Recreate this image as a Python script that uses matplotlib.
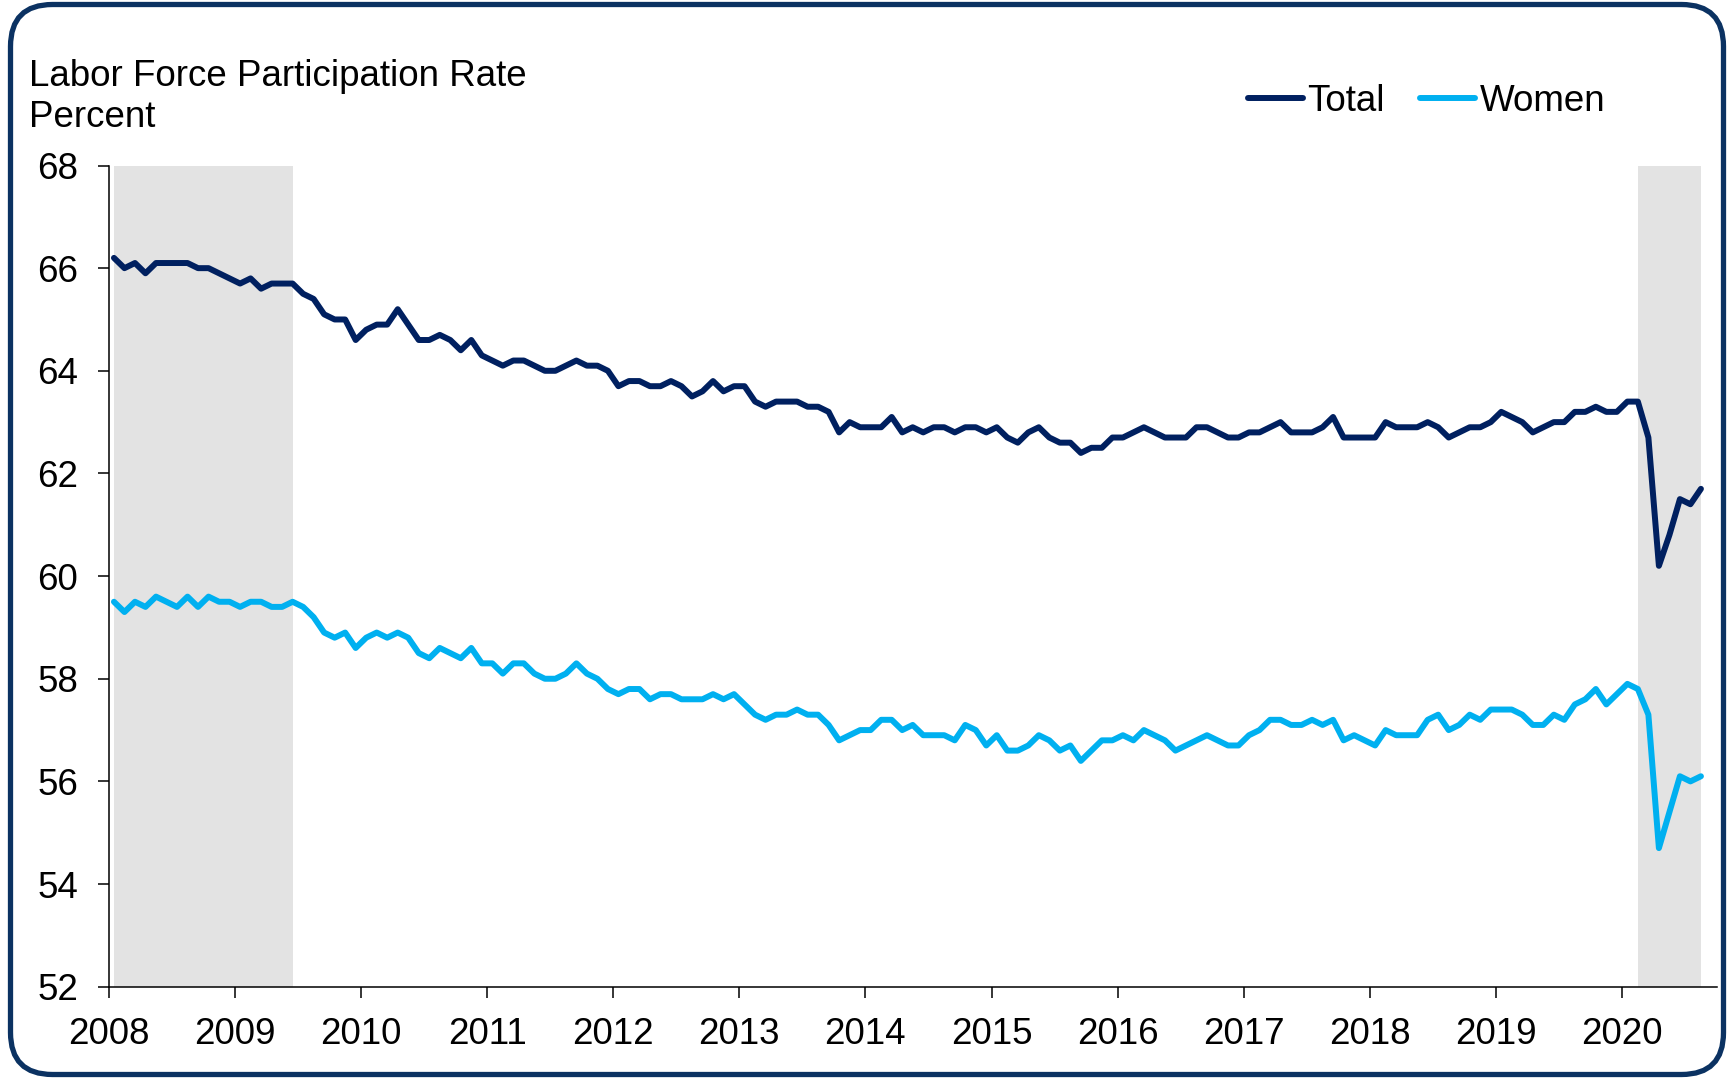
import numpy as np
import pandas as pd
import matplotlib
matplotlib.use('Agg')
import matplotlib.pyplot as plt
from matplotlib.patches import FancyBboxPatch

#-------------
#  Data
#-------------
months = pd.date_range('2008-01-01', '2020-08-01', freq='MS')

total = [
    66.2, 66.0, 66.1, 65.9, 66.1, 66.1, 66.1, 66.1, 66.0, 66.0, 65.9, 65.8,  # 2008
    65.7, 65.8, 65.6, 65.7, 65.7, 65.7, 65.5, 65.4, 65.1, 65.0, 65.0, 64.6,  # 2009
    64.8, 64.9, 64.9, 65.2, 64.9, 64.6, 64.6, 64.7, 64.6, 64.4, 64.6, 64.3,  # 2010
    64.2, 64.1, 64.2, 64.2, 64.1, 64.0, 64.0, 64.1, 64.2, 64.1, 64.1, 64.0,  # 2011
    63.7, 63.8, 63.8, 63.7, 63.7, 63.8, 63.7, 63.5, 63.6, 63.8, 63.6, 63.7,  # 2012
    63.7, 63.4, 63.3, 63.4, 63.4, 63.4, 63.3, 63.3, 63.2, 62.8, 63.0, 62.9,  # 2013
    62.9, 62.9, 63.1, 62.8, 62.9, 62.8, 62.9, 62.9, 62.8, 62.9, 62.9, 62.8,  # 2014
    62.9, 62.7, 62.6, 62.8, 62.9, 62.7, 62.6, 62.6, 62.4, 62.5, 62.5, 62.7,  # 2015
    62.7, 62.8, 62.9, 62.8, 62.7, 62.7, 62.7, 62.9, 62.9, 62.8, 62.7, 62.7,  # 2016
    62.8, 62.8, 62.9, 63.0, 62.8, 62.8, 62.8, 62.9, 63.1, 62.7, 62.7, 62.7,  # 2017
    62.7, 63.0, 62.9, 62.9, 62.9, 63.0, 62.9, 62.7, 62.8, 62.9, 62.9, 63.0,  # 2018
    63.2, 63.1, 63.0, 62.8, 62.9, 63.0, 63.0, 63.2, 63.2, 63.3, 63.2, 63.2,  # 2019
    63.4, 63.4, 62.7, 60.2, 60.8, 61.5, 61.4, 61.7,                          # 2020
]

women = [
    59.5, 59.3, 59.5, 59.4, 59.6, 59.5, 59.4, 59.6, 59.4, 59.6, 59.5, 59.5,  # 2008
    59.4, 59.5, 59.5, 59.4, 59.4, 59.5, 59.4, 59.2, 58.9, 58.8, 58.9, 58.6,  # 2009
    58.8, 58.9, 58.8, 58.9, 58.8, 58.5, 58.4, 58.6, 58.5, 58.4, 58.6, 58.3,  # 2010
    58.3, 58.1, 58.3, 58.3, 58.1, 58.0, 58.0, 58.1, 58.3, 58.1, 58.0, 57.8,  # 2011
    57.7, 57.8, 57.8, 57.6, 57.7, 57.7, 57.6, 57.6, 57.6, 57.7, 57.6, 57.7,  # 2012
    57.5, 57.3, 57.2, 57.3, 57.3, 57.4, 57.3, 57.3, 57.1, 56.8, 56.9, 57.0,  # 2013
    57.0, 57.2, 57.2, 57.0, 57.1, 56.9, 56.9, 56.9, 56.8, 57.1, 57.0, 56.7,  # 2014
    56.9, 56.6, 56.6, 56.7, 56.9, 56.8, 56.6, 56.7, 56.4, 56.6, 56.8, 56.8,  # 2015
    56.9, 56.8, 57.0, 56.9, 56.8, 56.6, 56.7, 56.8, 56.9, 56.8, 56.7, 56.7,  # 2016
    56.9, 57.0, 57.2, 57.2, 57.1, 57.1, 57.2, 57.1, 57.2, 56.8, 56.9, 56.8,  # 2017
    56.7, 57.0, 56.9, 56.9, 56.9, 57.2, 57.3, 57.0, 57.1, 57.3, 57.2, 57.4,  # 2018
    57.4, 57.4, 57.3, 57.1, 57.1, 57.3, 57.2, 57.5, 57.6, 57.8, 57.5, 57.7,  # 2019
    57.9, 57.8, 57.3, 54.7, 55.4, 56.1, 56.0, 56.1,                          # 2020
]

# shaded recession periods (first and last month)
recessions = [('2008-01-01', '2009-06-01'), ('2020-02-01', '2020-08-01')]

years = list(range(2008, 2021))
yticks = list(range(52, 69, 2))

#-------------
#  Plot
#-------------
plt.rcParams['font.family'] = ['Liberation Sans', 'DejaVu Sans']

NAVY = '#002060'
LIGHT = '#00b0f0'
SHADE = '#e3e3e3'
FRAME = '#0b3262'
FS = 26.5

W, H = 1729, 1081
fig = plt.figure(figsize=(W / 100, H / 100), dpi=100)
ax = fig.add_axes([108.7 / W, 1 - 986.7 / H, (1716.7 - 108.7) / W, (986.7 - 165.5) / H])

x = np.arange(len(months)) + 0.5

for start, end in recessions:
    i0 = months.get_loc(pd.Timestamp(start))
    i1 = months.get_loc(pd.Timestamp(end))
    ax.axvspan(x[i0], x[i1], color=SHADE, lw=0, zorder=0)

ax.plot(x, total, color=NAVY, lw=4.3, label='Total',
        solid_joinstyle='round', solid_capstyle='round', zorder=3)
ax.plot(x, women, color=LIGHT, lw=4.3, label='Women',
        solid_joinstyle='round', solid_capstyle='round', zorder=3)

ax.set_xlim(0, len(months) + 1)
ax.set_ylim(52, 68)

year_pos = [months.get_loc(pd.Timestamp(f'{y}-01-01')) for y in years]
ax.set_xticks(year_pos)
ax.set_xticklabels([str(y) for y in years])
ax.set_yticks(yticks)
ax.set_yticklabels([str(v) for v in yticks])

for side in ['top', 'right']:
    ax.spines[side].set_visible(False)
for side in ['left', 'bottom']:
    ax.spines[side].set_linewidth(1.1)
    ax.spines[side].set_color('black')

ax.tick_params(axis='both', direction='out', length=8, width=1.1,
               labelsize=FS, colors='black')
ax.tick_params(axis='y', pad=14)
ax.tick_params(axis='x', pad=14)

# titles
fig.text(29 / W, 1 - 86 / H, 'Labor Force Participation Rate', fontsize=FS,
         ha='left', va='baseline')
fig.text(29 / W, 1 - 127 / H, 'Percent', fontsize=FS, ha='left', va='baseline')

# legend
fig.legend(loc='center left', bbox_to_anchor=(1248 / W, 1 - 101.5 / H),
           ncol=2, frameon=False, fontsize=FS, handlelength=1.5,
           handletextpad=0.12, columnspacing=0.95, borderpad=0,
           borderaxespad=0)

# rounded frame around the whole chart
frame_ax = fig.add_axes([0, 0, 1, 1], facecolor='none')
frame_ax.set_xlim(0, W)
frame_ax.set_ylim(H, 0)
frame_ax.axis('off')
frame_ax.add_patch(FancyBboxPatch((10.5, 4.5), 1713, 1070,
                                  boxstyle='round,pad=0,rounding_size=42',
                                  fill=False, ec=FRAME, lw=3.8))

fig.savefig('out.png', dpi=100)
